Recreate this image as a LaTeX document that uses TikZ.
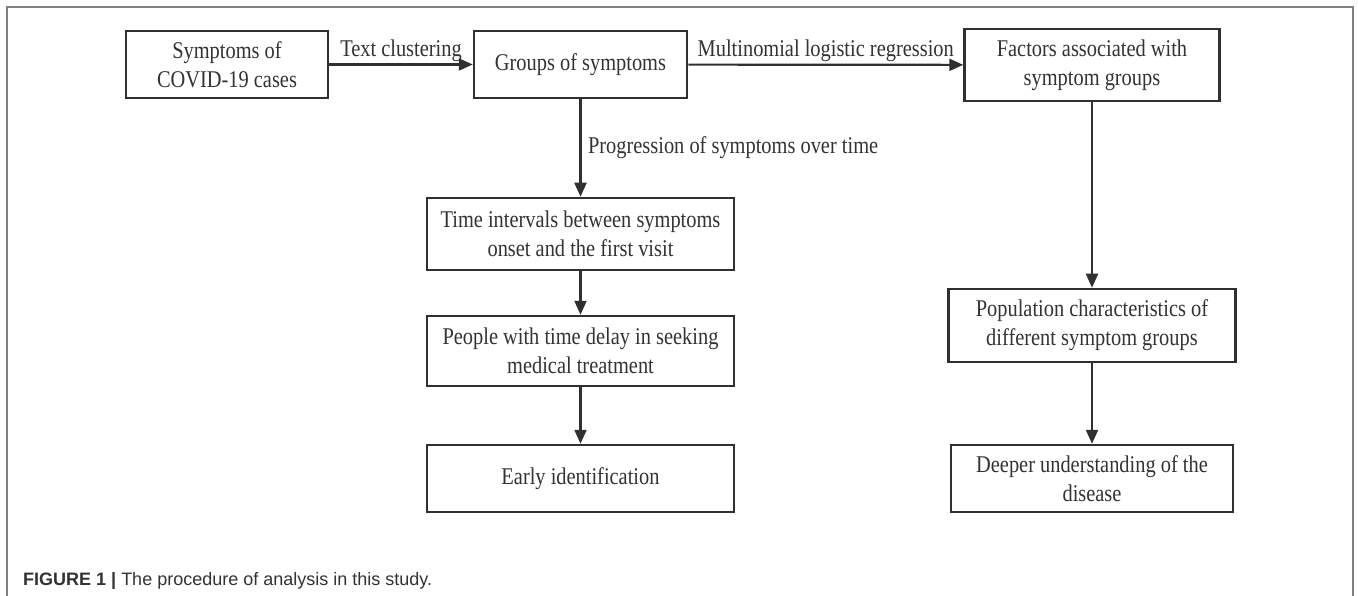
\documentclass[tikz,border=0pt]{standalone}
\usepackage{fontspec}
\setmainfont{Liberation Serif}[FakeStretch=0.85]
\newfontfamily\capfont{Liberation Sans}
\usetikzlibrary{arrows.meta}
\definecolor{boxgray}{HTML}{303030}
\definecolor{txtgray}{HTML}{333333}

\begin{document}
\begin{tikzpicture}[x=1pt,y=-1pt,
  box/.style={draw=boxgray,line width=2.5pt,inner sep=0pt,align=center,
    text=txtgray,font=\fontsize{24}{29}\selectfont},
  flow/.style={draw=boxgray,line width=2.2pt,-{Triangle[length=14pt,width=12pt]}},
  lbl/.style={text=txtgray,inner sep=1.5pt,font=\fontsize{24}{29}\selectfont}]
\useasboundingbox (0,0) rectangle (1358,596);
\fill[white] (0,0) rectangle (1358,596);
\draw[gray,line width=1.5pt] (7,596) -- (7,7) -- (1353,7) -- (1353,596);

% top row
\node[box,minimum width=202pt,minimum height=67pt] (cases) at (227,64.5) {Symptoms of\\COVID-19 cases};
\node[box,minimum width=213pt,minimum height=67pt] (groups) at (580.5,64.5) {Groups of symptoms};
\node[box,minimum width=255pt,minimum height=72pt] (factors) at (1092,65) {Factors associated with\\symptom groups};

% left column
\node[box,minimum width=307pt,minimum height=72pt] (interval) at (580.5,234) {Time intervals between symptoms\\onset and the first visit};
\node[box,minimum width=307pt,minimum height=70pt] (delay) at (580.5,351) {People with time delay in seeking\\medical treatment};
\node[box,minimum width=307pt,minimum height=67pt] (early) at (580.5,478.5) {Early identification};

% right column
\node[box,minimum width=287pt,minimum height=73pt] (popul) at (1092,325.5) {Population characteristics of\\different symptom groups};
\node[box,minimum width=282pt,minimum height=67pt] (deeper) at (1092,478.5) {Deeper understanding of the\\disease};

\draw[flow] (cases) -- node[lbl,above] {Text clustering} (groups);
\draw[flow] (groups) -- node[lbl,above] {Multinomial logistic regression} (factors);
\draw[flow] (groups) -- node[lbl,right=5pt] {Progression of symptoms over time} (interval);
\draw[flow] (interval) -- (delay);
\draw[flow] (delay) -- (early);
\draw[flow] (factors) -- (popul);
\draw[flow] (popul) -- (deeper);

\node[anchor=base west,inner sep=0pt,text=txtgray,font=\capfont\fontsize{18}{22}\selectfont] (caption) at (23,585)
  {\textbf{FIGURE 1 |} The procedure of analysis in this study.};
\end{tikzpicture}
\end{document}
